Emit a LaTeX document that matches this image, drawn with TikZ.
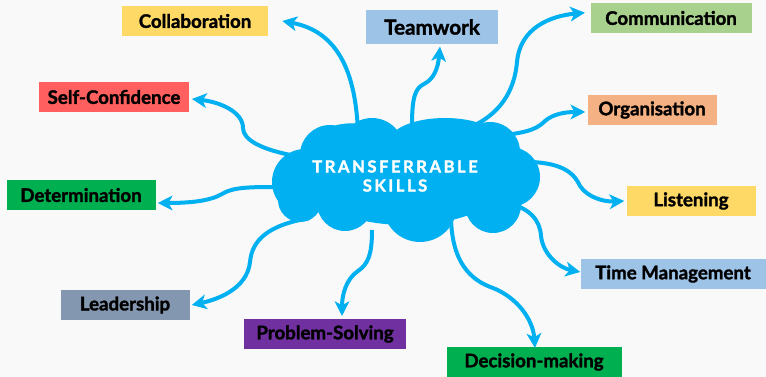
\documentclass[tikz,border=0pt]{standalone}
\usepackage{fontspec}
\setmainfont{Lato}[BoldFeatures={FakeBold=1.6}]
\usetikzlibrary{arrows.meta, positioning}
\definecolor{paper}{RGB}{249, 249, 249}
\definecolor{skyblue}{RGB}{0, 176, 240}
\definecolor{sunyellow}{RGB}{255, 217, 102}
\definecolor{paleblue}{RGB}{157, 195, 230}
\definecolor{palegreen}{RGB}{169, 209, 142}
\definecolor{coral}{RGB}{255, 95, 95}
\definecolor{peach}{RGB}{244, 177, 131}
\definecolor{deepgreen}{RGB}{0, 176, 80}
\definecolor{slate}{RGB}{132, 151, 176}
\definecolor{plum}{RGB}{112, 48, 160}

\tikzset{
    skillbox/.style 2 args={fill=#1, minimum width=#2, minimum height=22pt, inner sep=0pt,
        font=\bfseries\fontsize{14}{16}\selectfont, text=black},
    link/.style={draw=skyblue, line width=3pt, -{Stealth[length=11pt, width=11pt, inset=3pt]}},
}

\begin{document}
\begin{tikzpicture}[x=0.75pt, y=-0.75pt]
    \path[use as bounding box, fill=paper] (0,0) rectangle (766,377);

    % skill boxes
    \node[skillbox={sunyellow}{109.5pt}] (collab) at (195,21) {Collaboration};
    \node[skillbox={paleblue}{99pt}, minimum height=26pt, font=\bfseries\fontsize{15.5}{17}\selectfont] (team) at (432,27) {Teamwork};
    \node[skillbox={palegreen}{120.75pt}] (comm) at (671,18) {Communication};
    \node[skillbox={coral}{112.5pt}] (self) at (114,97) {Self-Confidence};
    \node[skillbox={peach}{96.75pt}] (organ) at (652,110) {Organisation};
    \node[skillbox={deepgreen}{111.75pt}] (determ) at (81,195) {Determination};
    \node[skillbox={sunyellow}{96.75pt}] (listen) at (691,201) {Listening};
    \node[skillbox={paleblue}{138.75pt}] (timem) at (673,274) {Time Management};
    \node[skillbox={slate}{96.75pt}] (lead) at (125,305) {Leadership};
    \node[skillbox={plum}{121.5pt}] (prob) at (325,334) {Problem-Solving};
    \node[skillbox={deepgreen}{131.25pt}] (decide) at (534,362) {Decision-making};

    % arrow ends on the cloud
    \coordinate (sCol) at (358,135);
    \coordinate (sTea) at (412,125);
    \coordinate (sCom) at (475,125);
    \coordinate (sOrg) at (505,135);
    \coordinate (sLis) at (530,162);
    \coordinate (sTim) at (505,202);
    \coordinate (sDec) at (451,218);
    \coordinate (sPro) at (372,230);
    \coordinate (sLea) at (310,218);
    \coordinate (sDet) at (280,187);
    \coordinate (sSel) at (296,156);

    % arrow tips next to the boxes
    \coordinate[right=10.5pt of collab.east] (eCol);
    \coordinate[below=1.5pt of team.south, xshift=6pt] (eTea);
    \coordinate[left=4pt of comm.west, yshift=4pt] (eCom);
    \coordinate[left=1.5pt of organ.west, yshift=-1.5pt] (eOrg);
    \coordinate[left=1.5pt of listen.west] (eLis);
    \coordinate[left=0pt of timem.west, yshift=1.5pt] (eTim);
    \coordinate (eDec) at (535,348);
    \coordinate (ePro) at (342,316);
    \coordinate[right=1.5pt of lead.east] (eLea);
    \coordinate[right=1.5pt of determ.east, yshift=-6pt] (eDet);
    \coordinate[right=2pt of self.east, yshift=-1.5pt] (eSel);

    \draw[link] (sCol) .. controls (356,60) and (330,30) .. (eCol);
    \draw[link] (sTea) .. controls (412,95) and (416,88) .. (424,84) .. controls (434,79) and (438,68) .. (eTea);
    \draw[link] (sCom) .. controls (505,110) and (515,85) .. (517,62) .. controls (520,28) and (550,16) .. (eCom);
    \draw[link] (sOrg) .. controls (530,132) and (538,128) .. (545,121) .. controls (553,114) and (565,112) .. (eOrg);
    \draw[link] (sLis) .. controls (565,163) and (575,175) .. (580,186) .. controls (588,198) and (605,202) .. (eLis);
    \draw[link] (sTim) .. controls (530,208) and (540,220) .. (541,236) .. controls (543,255) and (560,268) .. (eTim);
    \draw[link] (sDec) .. controls (452,262) and (470,280) .. (493,288) .. controls (518,298) and (533,320) .. (eDec);
    \draw[link] (sPro) .. controls (372,255) and (368,264) .. (358,271) .. controls (346,279) and (342,295) .. (ePro);
    \draw[link] (sLea) .. controls (268,225) and (252,240) .. (250,262) .. controls (247,290) and (215,300) .. (eLea);
    \draw[link] (sDet) .. controls (250,187) and (233,187) .. (222,194) .. controls (210,201) and (190,203) .. (eDet);
    \draw[link] (sSel) .. controls (262,150) and (243,140) .. (243,128) .. controls (243,112) and (220,102) .. (eSel);

    % cloud
    \fill[skyblue] (305,182) circle[radius=24.75pt] (330,155) circle[radius=22.5pt]
        (372,150) circle[radius=24pt] (445,142) ellipse[x radius=42pt, y radius=18pt]
        (352,146) ellipse[x radius=30pt, y radius=17pt]
        (490,152) circle[radius=22.5pt] (510,177) circle[radius=22.5pt]
        (493,205) circle[radius=21pt] (420,205) circle[radius=27.75pt]
        (345,203) circle[radius=21pt] (300,200) circle[radius=16.5pt]
        (406,180) ellipse[x radius=75pt, y radius=33.75pt];
    \node[text=white, align=center, font=\bfseries\fontsize{12.5}{14.25}\selectfont\addfontfeature{LetterSpace=15}] (core) at (395,176) {TRANSFERRABLE\\SKILLS};
\end{tikzpicture}
\end{document}
